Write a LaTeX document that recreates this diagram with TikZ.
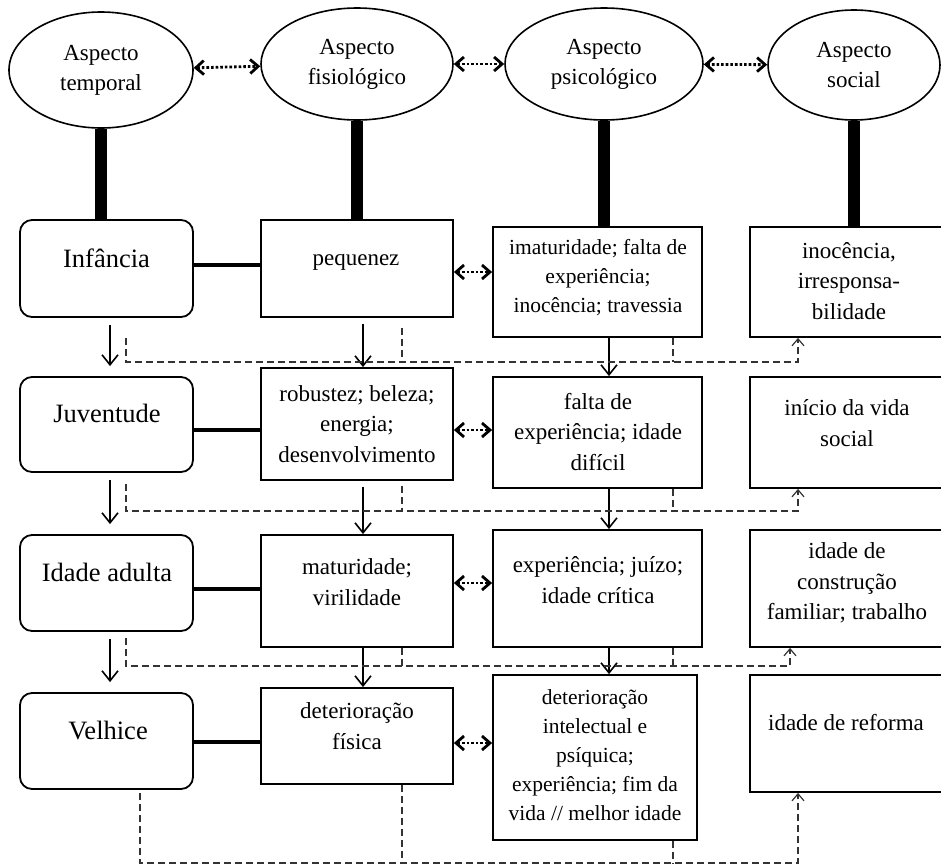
\documentclass[tikz,border=0pt]{standalone}
\usepackage{fontspec}
\setmainfont{Liberation Serif}
\usetikzlibrary{arrows.meta,shapes.geometric}

\tikzset{tam/.style 2 args={minimum width=#1pt,minimum height=#2pt}}

\begin{document}
\begin{tikzpicture}[x=1pt,y=-1pt,
  aspecto/.style={ellipse,draw,line width=1.6pt,inner sep=0pt,align=center,font=\fontsize{23}{30}\selectfont},
  caixa/.style={draw,line width=1.8pt,inner sep=0pt},
  fase/.style={caixa,rounded corners=12pt},
  texto/.style={align=center,inner sep=0pt,font=\fontsize{23}{30.5}\selectfont},
  menor/.style={font=\fontsize{21.5}{29}\selectfont},
  textofase/.style={texto,font=\fontsize{26.5}{30}\selectfont},
  pilar/.style={line width=12pt},
  liga/.style={line width=4pt},
  troca/.style={line width=2.8pt,dash pattern=on 2.6pt off 2pt,{Straight Barb[length=8pt,width=14pt]}-{Straight Barb[length=8pt,width=14pt]}},
  passa/.style={line width=1.6pt,-{Straight Barb[length=10pt,width=16pt]}},
  volta/.style={line width=1.2pt,black!80,dash pattern=on 7pt off 4pt},
  retorno/.style={volta,-{Straight Barb[length=7pt,width=12pt]}}]

\useasboundingbox (0,0) rectangle (941,865);

% niveis das ligacoes
\coordinate (l1) at (0,265); \coordinate (t1) at (0,272); \coordinate (r1) at (0,362);
\coordinate (l2) at (0,430); \coordinate (t2) at (0,430); \coordinate (r2) at (0,511);
\coordinate (l3) at (0,589); \coordinate (t3) at (0,583); \coordinate (r3) at (0,666);
\coordinate (l4) at (0,742); \coordinate (t4) at (0,743); \coordinate (r4) at (0,863);
% colunas das setas
\coordinate (xa) at (110,0); \coordinate (xb) at (363,0); \coordinate (xc) at (609,0);
\coordinate (fa) at (126,0); \coordinate (fe) at (140,0); \coordinate (fb) at (402,0);
\coordinate (fc) at (673,0); \coordinate (fd) at (798,0); \coordinate (ff) at (790,0);

% aspectos
\node[aspecto,tam={184}{116}] (tmp) at (101,70) {Aspecto\\temporal};
\node[aspecto,tam={192}{112}] (fis) at (357,64) {Aspecto\\fisiológico};
\node[aspecto,tam={198}{112}] (psc) at (604,64) {Aspecto\\psicológico};
\node[aspecto,tam={172}{110}] (soc) at (854,65) {Aspecto\\social};

% aspecto temporal
\node[fase,tam={173}{97}] (inf) at (106.5,268.5) {};
\node[fase,tam={173}{95}] (juv) at (106.5,424.5) {};
\node[fase,tam={173}{96}] (ida) at (106.5,583) {};
\node[fase,tam={173}{96}] (vel) at (106.5,741) {};
\node[textofase] (inf-t) at (106.5,258) {Infância};
\node[textofase] (juv-t) at (107,413) {Juventude};
\node[textofase] (ida-t) at (107,572) {Idade adulta};
\node[textofase] (vel-t) at (108,730) {Velhice};

% aspecto fisiologico
\node[caixa,tam={192}{97}] (peq) at (357,268.5) {};
\node[caixa,tam={192}{112}] (rob) at (357,424) {};
\node[caixa,tam={192}{112}] (mat) at (357,591) {};
\node[caixa,tam={192}{96}] (det) at (357,736) {};
\node[texto] (peq-t) at (356,262) {pequenez};
\node[texto] (rob-t) at (357,424) {robustez; beleza;\\energia;\\desenvolvimento};
\node[texto] (mat-t) at (357,582) {maturidade;\\virilidade};
\node[texto] (det-t) at (357,726) {deterioração\\física};

% aspecto psicologico
\node[caixa,tam={209}{110}] (psi1) at (597.5,282) {};
\node[caixa,tam={209}{111}] (psi2) at (597.5,432.5) {};
\node[caixa,tam={209}{117}] (psi3) at (597.5,588.5) {};
\node[caixa,tam={204}{165}] (psi4) at (595,757.5) {};
\node[texto,menor] (psi1-t) at (598,278) {imaturidade; falta de\\experiência;\\inocência; travessia};
\node[texto] (psi2-t) at (598,432) {falta de\\experiência; idade\\difícil};
\node[texto] (psi3-t) at (598,580) {experiência; juízo;\\idade crítica};
\node[texto,menor] (psi4-t) at (595,755) {deterioração\\intelectual e\\psíquica;\\experiência; fim da\\vida // melhor idade};

% aspecto social
\node[caixa,tam={200}{110}] (soc1) at (850,282) {};
\node[caixa,tam={200}{111}] (soc2) at (850,432.5) {};
\node[caixa,tam={200}{117}] (soc3) at (850,588.5) {};
\node[caixa,tam={200}{117}] (soc4) at (850,733.5) {};
\node[texto] (soc1-t) at (849,281) {inocência,\\irresponsa-\\bilidade};
\node[texto] (soc2-t) at (847,423) {início da vida\\social};
\node[texto] (soc3-t) at (847,583) {idade de\\construção\\familiar; trabalho};
\node[texto] (soc4-t) at (846,723) {idade de reforma};

% aspectos entre si
\draw[troca] (tmp) -- (fis);
\draw[troca] (fis) -- (psc);
\draw[troca] (psc) -- (soc);

% pilares
\draw[pilar] (tmp.south) -- (tmp.south |- inf.north);
\draw[pilar] (fis.south) -- (fis.south |- peq.north);
\draw[pilar] (psc.south) -- (psc.south |- psi1.north);
\draw[pilar] (soc.south) -- (soc.south |- soc1.north);

% fase -- fisiologico
\draw[liga] (inf.east |- l1) -- (peq.west |- l1);
\draw[liga] (juv.east |- l2) -- (rob.west |- l2);
\draw[liga] (ida.east |- l3) -- (mat.west |- l3);
\draw[liga] (vel.east |- l4) -- (det.west |- l4);

% fisiologico <-> psicologico
\draw[troca] (peq.east |- t1) -- (psi1.west |- t1);
\draw[troca] (rob.east |- t2) -- (psi2.west |- t2);
\draw[troca] (mat.east |- t3) -- (psi3.west |- t3);
\draw[troca] (det.east |- t4) -- (psi4.west |- t4);

% passagem das fases
\draw[passa,shorten <=7pt,shorten >=10pt] (inf.south -| xa) -- (juv.north -| xa);
\draw[passa,shorten <=7pt,shorten >=10pt] (juv.south -| xa) -- (ida.north -| xa);
\draw[passa,shorten <=7pt,shorten >=10pt] (ida.south -| xa) -- (vel.north -| xa);
\draw[passa,shorten <=6pt] (peq.south -| xb) -- (rob.north -| xb);
\draw[passa,shorten <=6pt] (rob.south -| xb) -- (mat.north -| xb);
\draw[passa] (mat.south -| xb) -- (det.north -| xb);
\draw[passa] (psi1.south -| xc) -- (psi2.north -| xc);
\draw[passa] (psi2.south -| xc) -- (psi3.north -| xc);
\draw[passa] (psi3.south -| xc) -- (psi4.north -| xc);

% retorno para o aspecto social
\draw[retorno,shorten <=20pt] (inf.south -| fa) |- (r1 -| fd) -- (soc1.south -| fd);
\draw[volta,shorten <=10pt] (peq.south -| fb) -- (r1 -| fb);
\draw[volta] (psi1.south -| fc) -- (r1 -| fc);

\draw[retorno,shorten <=11pt] (juv.south -| fa) |- (r2 -| fd) -- (soc2.south -| fd);
\draw[volta,shorten <=5pt] (rob.south -| fb) -- (r2 -| fb);
\draw[volta] (psi2.south -| fc) -- (r2 -| fc);

\draw[retorno,shorten <=6pt] (ida.south -| fa) |- (r3 -| ff) -- (soc3.south -| ff);
\draw[volta] (mat.south -| fb) -- (r3 -| fb);
\draw[volta] (psi3.south -| fc) -- (r3 -| fc);

\draw[retorno,shorten <=3pt] (vel.south -| fe) |- (r4 -| fd) -- (soc4.south -| fd);
\draw[volta] (det.south -| fb) -- (r4 -| fb);
\draw[volta] (psi4.south -| fc) -- (r4 -| fc);

\end{tikzpicture}
\end{document}
